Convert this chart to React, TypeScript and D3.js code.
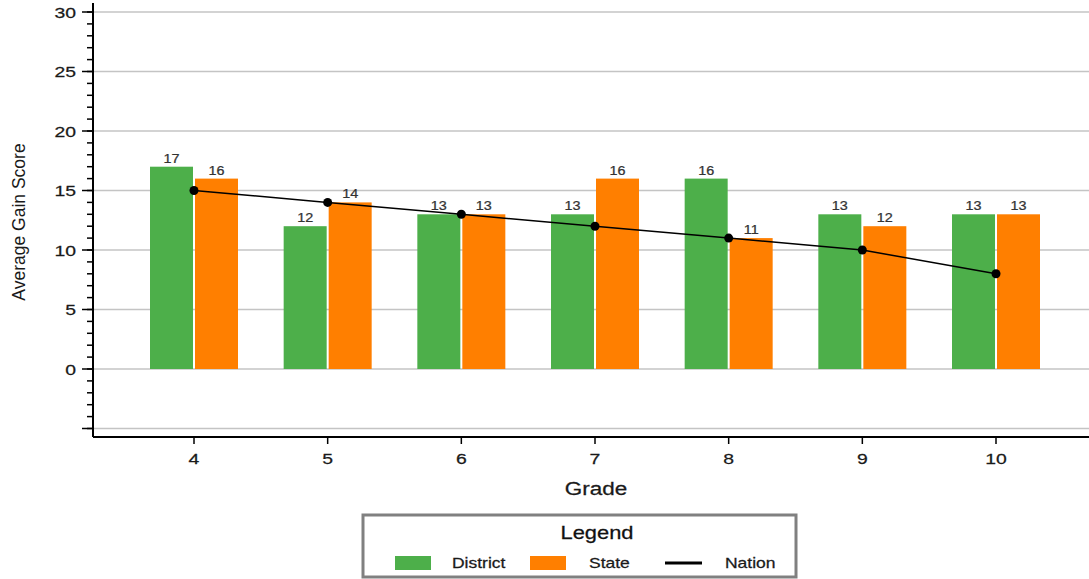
import React from "react";
import * as d3 from "d3";

const grades = [4, 5, 6, 7, 8, 9, 10];
const district = [17, 12, 13, 13, 16, 13, 13];
const state = [16, 14, 13, 16, 11, 12, 13];
const nation = [15, 14, 13, 12, 11, 10, 8];
const majorTicks = [-5, 0, 5, 10, 15, 20, 25, 30];
const tickLabels = ["", "0", "5", "10", "15", "20", "25", "30"];

const W = 1089;
const H = 579;
const GREEN = "#4daf4a";
const ORANGE = "#ff7f00";
const FONT = "'Liberation Sans', Arial, sans-serif";

function SText(props: {
  x: number;
  y: number;
  size: number;
  sx?: number;
  anchor?: string;
  fill?: string;
  children: React.ReactNode;
}) {
  const { x, y, size, sx = 1.25, anchor = "start", fill = "#1a1a1a", children } = props;
  return (
    <text
      transform={`translate(${x},${y}) scale(${sx},1)`}
      textAnchor={anchor}
      fontSize={size}
      fill={fill}
      stroke={fill}
      strokeWidth={0.25}
    >
      {children}
    </text>
  );
}

export default function App() {
  const left = 93;
  const bottom = 437;
  const y = d3.scaleLinear().domain([0, 30]).range([369, 12]);
  const x = d3.scaleLinear().domain([4, 10]).range([194, 996]);
  const yTop = 3;
  const barW = 43;
  const gap = 2;
  const minor = d3.range(-5, 31, 1);
  const line = d3
    .line<number>()
    .x((_, i) => x(grades[i]))
    .y((d) => y(d));

  return (
    <div style={{ position: "absolute", left: 0, top: 0 }}>
      <svg width={W} height={H} style={{ display: "block", fontFamily: FONT }}>
        <rect width={W} height={H} fill="#fff" />
        {majorTicks.map((t) => (
          <line key={"g" + t} x1={left} x2={W} y1={y(t)} y2={y(t)} stroke="#c4c4c4" strokeWidth={1.5} />
        ))}
        {grades.map((g, i) => (
          <g key={"b" + g}>
            <rect x={x(g) - gap / 2 - barW} y={y(district[i])} width={barW} height={y(0) - y(district[i])} fill={GREEN} />
            <rect x={x(g) + gap / 2} y={y(state[i])} width={barW} height={y(0) - y(state[i])} fill={ORANGE} />
            <SText x={x(g) - gap / 2 - barW / 2} y={y(district[i]) - 4} size={12} sx={1.2} anchor="middle" fill="#333">
              {district[i]}
            </SText>
            <SText x={x(g) + gap / 2 + barW / 2} y={y(state[i]) - 4} size={12} sx={1.2} anchor="middle" fill="#333">
              {state[i]}
            </SText>
          </g>
        ))}
        <path d={line(nation) || ""} fill="none" stroke="#000" strokeWidth={1.5} />
        {nation.map((v, i) => (
          <circle key={"c" + i} cx={x(grades[i])} cy={y(v)} r={4.5} fill="#000" />
        ))}
        <line x1={left} x2={left} y1={yTop} y2={bottom} stroke="#000" strokeWidth={2} />
        {minor.map((t) => (
          <line key={"m" + t} x1={left - 6} x2={left} y1={y(t)} y2={y(t)} stroke="#000" strokeWidth={1.5} />
        ))}
        {majorTicks.map((t, i) => (
          <g key={"t" + t}>
            <line x1={left - 11} x2={left} y1={y(t)} y2={y(t)} stroke="#000" strokeWidth={1.5} />
            <SText x={left - 17} y={y(t) + 5.5} size={15.5} anchor="end">
              {tickLabels[i]}
            </SText>
          </g>
        ))}
        <text transform={`translate(25,222) rotate(-90)`} textAnchor="middle" fontSize={17.5} fill="#1a1a1a">
          Average Gain Score
        </text>
        <line x1={left} x2={W} y1={bottom} y2={bottom} stroke="#000" strokeWidth={2} />
        {grades.map((g) => (
          <g key={"x" + g}>
            <line x1={x(g)} x2={x(g)} y1={bottom} y2={bottom + 7} stroke="#000" strokeWidth={1.5} />
            <SText x={x(g)} y={bottom + 27} size={15.5} anchor="middle">
              {g}
            </SText>
          </g>
        ))}
        <SText x={596} y={495} size={18} anchor="middle">
          Grade
        </SText>
        <rect x={363} y={515} width={433} height={62} fill="#fff" stroke="#808080" strokeWidth={3} />
        <SText x={597} y={539} size={17.5} anchor="middle" fill="#111">
          Legend
        </SText>
        <rect x={395} y={556} width={36} height={14} fill={GREEN} />
        <SText x={452} y={568} size={14}>District</SText>
        <rect x={530} y={556} width={36} height={14} fill={ORANGE} />
        <SText x={589} y={568} size={14}>State</SText>
        <line x1={665} x2={702} y1={563} y2={563} stroke="#000" strokeWidth={3} />
        <SText x={725} y={568} size={14}>Nation</SText>
      </svg>
    </div>
  );
}
